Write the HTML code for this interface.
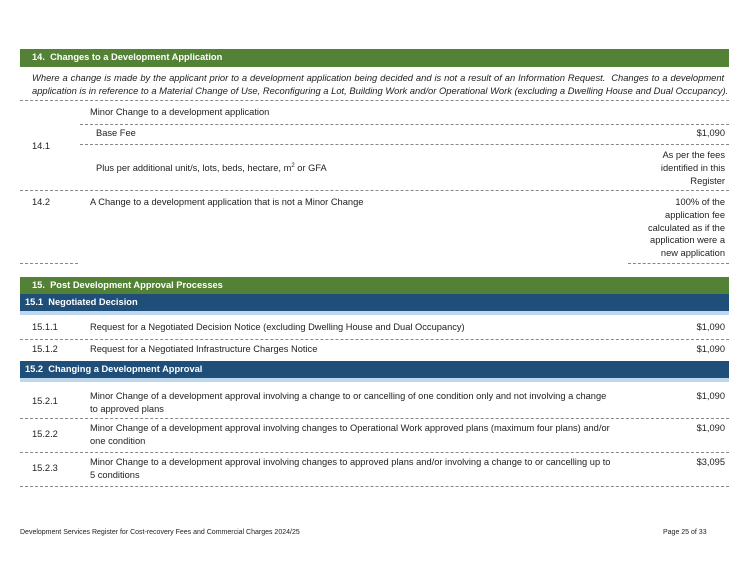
<!DOCTYPE html>
<html><head><meta charset="utf-8"><style>
body{margin:0;width:752px;height:581px;background:#fff;position:relative;overflow:hidden;font-family:"Liberation Sans",sans-serif;color:#222;}
.a{position:absolute;font-size:9.3px;line-height:13px;white-space:nowrap;}
.r{text-align:right;}
.g{position:absolute;left:20px;width:709px;background:#538135;color:#fff;font-weight:bold;font-size:9.3px;line-height:17px;}
.b{position:absolute;left:20px;width:709px;background:#1f4e79;color:#fff;font-weight:bold;font-size:9.3px;line-height:17px;border-bottom:4px solid #bdd7ee;}
.d{position:absolute;height:0;border-top:1px dashed #888;}
.i{position:absolute;left:32px;font-style:italic;font-size:9.4px;line-height:13px;white-space:nowrap;}
</style></head><body>
<div class="g" style="top:49px;height:18px;padding-left:12px;width:697px;">14.&nbsp; Changes to a Development Application</div>
<div class="i" style="top:71px;word-spacing:0.3px;">Where a change is made by the applicant prior to a development application being decided and is not a result of an Information Request.&nbsp; Changes to a development</div>
<div class="i" style="top:84px;">application is in reference to a Material Change of Use, Reconfiguring a Lot, Building Work and/or Operational Work (excluding a Dwelling House and Dual Occupancy).</div>
<div class="d" style="top:100px;left:20px;width:709px;"></div>
<div class="a" style="top:106px;left:90px;">Minor Change to a development application</div>
<div class="d" style="top:124px;left:80px;width:649px;"></div>
<div class="a" style="top:127px;left:96px;">Base Fee</div>
<div class="a r" style="top:127px;right:27px;">$1,090</div>
<div class="a" style="top:140px;left:32px;">14.1</div>
<div class="d" style="top:144px;left:80px;width:649px;"></div>
<div class="a" style="top:162px;left:96px;">Plus per additional unit/s, lots, beds, hectare, m<sup style="font-size:6px;line-height:0">2</sup> or GFA</div>
<div class="a r" style="top:149px;right:27px;">As per the fees<br>identified in this<br>Register</div>
<div class="d" style="top:190px;left:20px;width:709px;"></div>
<div class="a" style="top:196px;left:32px;">14.2</div>
<div class="a" style="top:196px;left:90px;">A Change to a development application that is not a Minor Change</div>
<div class="a r" style="top:196px;right:27px;line-height:12.8px;">100% of the<br>application fee<br>calculated as if the<br>application were a<br>new application</div>
<div class="d" style="top:263px;left:20px;width:58px;"></div>
<div class="d" style="top:263px;left:628px;width:101px;"></div>

<div class="g" style="top:277px;height:17px;padding-left:12px;width:697px;">15.&nbsp; Post Development Approval Processes</div>
<div class="b" style="top:294px;height:17px;padding-left:5px;width:704px;">15.1&nbsp; Negotiated Decision</div>
<div class="a" style="top:321px;left:32px;">15.1.1</div>
<div class="a" style="top:321px;left:90px;">Request for a Negotiated Decision Notice (excluding Dwelling House and Dual Occupancy)</div>
<div class="a r" style="top:321px;right:27px;">$1,090</div>
<div class="d" style="top:339px;left:20px;width:709px;"></div>
<div class="a" style="top:343px;left:32px;">15.1.2</div>
<div class="a" style="top:343px;left:90px;">Request for a Negotiated Infrastructure Charges Notice</div>
<div class="a r" style="top:343px;right:27px;">$1,090</div>
<div class="b" style="top:361px;height:17px;padding-left:5px;width:704px;">15.2&nbsp; Changing a Development Approval</div>
<div class="a" style="top:395px;left:32px;">15.2.1</div>
<div class="a" style="top:390px;left:90px;">Minor Change of a development approval involving a change to or cancelling of one condition only and not involving a change<br>to approved plans</div>
<div class="a r" style="top:390px;right:27px;">$1,090</div>
<div class="d" style="top:418px;left:20px;width:709px;"></div>
<div class="a" style="top:428px;left:32px;">15.2.2</div>
<div class="a" style="top:422px;left:90px;">Minor Change of a development approval involving changes to Operational Work approved plans (maximum four plans) and/or<br>one condition</div>
<div class="a r" style="top:422px;right:27px;">$1,090</div>
<div class="d" style="top:452px;left:20px;width:709px;"></div>
<div class="a" style="top:462px;left:32px;">15.2.3</div>
<div class="a" style="top:456px;left:90px;">Minor Change to a development approval involving changes to approved plans and/or involving a change to or cancelling up to<br>5 conditions</div>
<div class="a r" style="top:456px;right:27px;">$3,095</div>
<div class="d" style="top:486px;left:20px;width:709px;"></div>

<div class="a" style="top:526px;left:20px;font-size:7px;">Development Services Register for Cost-recovery Fees and Commercial Charges 2024/25</div>
<div class="a" style="top:526px;left:663px;font-size:7px;">Page 25 of 33</div>
</body></html>
